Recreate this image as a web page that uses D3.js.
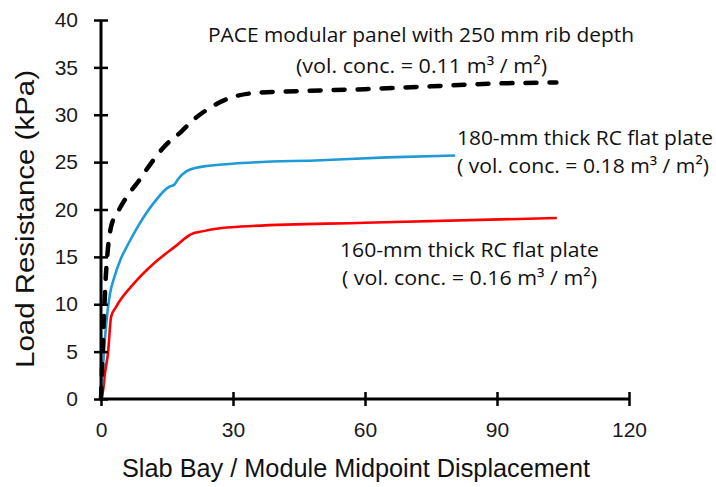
<!DOCTYPE html>
<html>
<head>
<meta charset="utf-8">
<title>Load resistance vs displacement</title>
<script src="https://d3js.org/d3.v7.min.js"></script>
<style>
  body { margin: 0; background: #fff; }
  .tick text { font-family: "Liberation Sans", Arial, sans-serif; font-size: 21px; fill: #1a1a1a; }
  .note { font-family: "Open Sans", sans-serif; font-size: 20px; fill: #111; }
  .title { font-family: "Liberation Sans", Arial, sans-serif; fill: #111; }
</style>
</head>
<body>
<svg id="chart" width="716" height="487"></svg>
<script>
// x ticks and y ticks
var xTicks = [0, 30, 60, 90, 120];
var yTicks = [0, 5, 10, 15, 20, 25, 30, 35, 40];

// PACE modular panel (dashed black)
var paceX = [0, 0.3, 0.7, 1.1, 1.5, 2.3, 3.9, 6.4, 8.4, 11.4, 14.3, 18.2, 21.1, 25, 29.5, 35, 45, 60, 75, 90, 103.5];
var paceY = [0, 4, 9, 13, 15.5, 18.2, 19.8, 21.7, 22.9, 24.9, 26.6, 28.2, 29.5, 30.8, 31.8, 32.3, 32.5, 32.7, 33.0, 33.3, 33.4];

// 180-mm RC flat plate (blue)
var rc180X = [0, 0.4, 1.2, 2, 3, 4.5, 6, 8.5, 12, 15.5, 16.6, 17.5, 19.3, 22.7, 32, 50, 65, 80.5];
var rc180Y = [0, 3, 8, 11, 12.8, 14.8, 16.2, 18.3, 20.7, 22.4, 22.6, 23.2, 24, 24.5, 24.9, 25.2, 25.5, 25.7];

// 160-mm RC flat plate (red)
var rc160X = [0, 0.5, 0.9, 1.6, 2.3, 3.4, 7.5, 12, 16.6, 21, 22, 26.6, 31.8, 60, 103.6];
var rc160Y = [0, 1, 2.7, 4.9, 8.7, 9.7, 12.2, 14.3, 16, 17.5, 17.6, 18, 18.2, 18.6, 19.1];

var svg = d3.select('#chart');
var margin = {left: 101, top: 20, right: 87, bottom: 88};
var width = 716 - margin.left - margin.right;
var height = 487 - margin.top - margin.bottom;

var x = d3.scaleLinear().domain([0, 120]).range([0, width]);
var y = d3.scaleLinear().domain([0, 40]).range([height, 0]);

var g = svg.append('g').attr('transform', 'translate(' + margin.left + ',' + margin.top + ')');

function zip(xs, ys) { return xs.map(function (v, i) { return [v, ys[i]]; }); }

var line = d3.line()
    .x(function (d) { return x(d[0]); })
    .y(function (d) { return y(d[1]); })
    .curve(d3.curveMonotoneX);

g.append('path').datum(zip(rc160X, rc160Y))
    .attr('d', line).attr('fill', 'none')
    .attr('stroke', '#ff0000').attr('stroke-width', 2.6);

g.append('path').datum(zip(rc180X, rc180Y))
    .attr('d', line).attr('fill', 'none')
    .attr('stroke', '#1e9ad6').attr('stroke-width', 2.6);

g.append('path').datum(zip(paceX, paceY))
    .attr('d', line).attr('fill', 'none')
    .attr('stroke', '#000').attr('stroke-width', 4.5)
    .attr('stroke-linecap', 'round')
    .attr('stroke-dasharray', '11,13');

// axes (ticks cross the axis line)
var xAxis = g.append('g').attr('transform', 'translate(0,' + height + ')')
    .call(d3.axisBottom(x).tickValues(xTicks).tickSize(7).tickPadding(16));
xAxis.selectAll('.tick line').attr('y1', -7).attr('stroke-width', 2.5).attr('stroke', '#000');
xAxis.select('.domain').attr('d', 'M0,0H' + width).attr('stroke-width', 3).attr('stroke', '#000');

var yAxis = g.append('g')
    .call(d3.axisLeft(y).tickValues(yTicks).tickSize(7).tickPadding(16));
yAxis.selectAll('.tick line').attr('x1', 7).attr('stroke-width', 2.5).attr('stroke', '#000');
yAxis.select('.domain').attr('d', 'M0,0V' + height).attr('stroke-width', 3).attr('stroke', '#000');
svg.selectAll('.tick text').attr('font-family', null).attr('font-size', null);

// axis titles
svg.append('text').attr('class', 'title')
    .attr('x', 122).attr('y', 477)
    .attr('textLength', 468).attr('lengthAdjust', 'spacingAndGlyphs')
    .style('font-size', '26px')
    .text('Slab Bay / Module Midpoint Displacement');

svg.append('text').attr('class', 'title')
    .attr('transform', 'translate(34,368) rotate(-90)')
    .attr('textLength', 298).attr('lengthAdjust', 'spacingAndGlyphs')
    .style('font-size', '25px')
    .text('Load Resistance (kPa)');

// annotations
var notes = [
  {t: 'PACE modular panel with 250 mm rib depth', x: 208, y: 42, w: 426},
  {t: '(vol. conc. = 0.11 m\u00B3 / m\u00B2)', x: 296, y: 73, w: 251},
  {t: '180-mm thick RC flat plate', x: 457, y: 145, w: 256},
  {t: '( vol. conc. = 0.18 m\u00B3 / m\u00B2)', x: 457, y: 173, w: 252},
  {t: '160-mm thick RC flat plate', x: 340, y: 257, w: 259},
  {t: '( vol. conc. = 0.16 m\u00B3 / m\u00B2)', x: 342, y: 285, w: 255}
];
svg.selectAll('.note').data(notes).enter().append('text')
    .attr('class', 'note')
    .attr('x', function (d) { return d.x; })
    .attr('y', function (d) { return d.y; })
    .attr('textLength', function (d) { return d.w; })
    .attr('lengthAdjust', 'spacingAndGlyphs')
    .text(function (d) { return d.t; });
</script>
</body>
</html>
